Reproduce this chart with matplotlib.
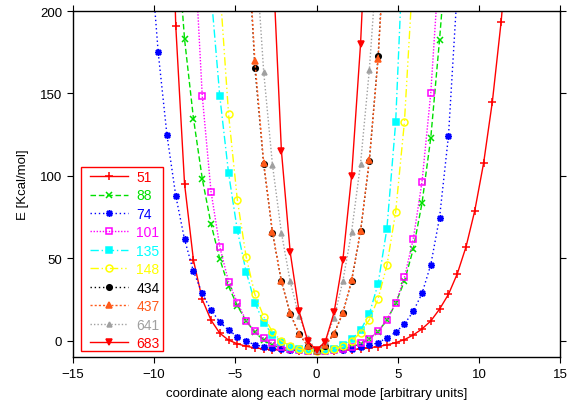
import matplotlib
matplotlib.use('Agg')
import matplotlib.pyplot as plt
from matplotlib.patches import Rectangle

plt.rcParams['font.family'] = ['Liberation Sans', 'DejaVu Sans']

# sampling grid along the normal-mode coordinate (shared by all modes)
grid = [-10.28, -9.74, -9.20, -8.66, -8.12, -7.57, -7.03, -6.49, -5.95, -5.41,
        -4.87, -4.33, -3.79, -3.25, -2.71, -2.16, -1.62, -1.08, -0.54, 0.0,
        0.54, 1.08, 1.62, 2.16, 2.71, 3.25, 3.79, 4.33, 4.87, 5.41,
        5.95, 6.49, 7.03, 7.57, 8.12, 8.66, 9.20, 9.74, 10.28, 10.82,
        11.36, 11.90]

modes = ['51', '88', '74', '101', '135', '148', '434', '437', '641', '683']
starts = [2, 3, 0, 5, 7, 8, 11, 11, 12, 14]   # first grid index of each mode

e51 = [380, 191, 95.3, 48.8, 25.1, 12.5, 4.6, 0.4, -1.8, -3.3, -4.3, -4.9, -5.3,
       -5.6, -5.8, -5.9, -6.0, -6.0, -6.0, -5.9, -5.8, -5.4, -4.8, -4.2, -3.5,
       -2.5, -1.1, 0.7, 3.5, 7.2, 12.0, 19.2, 28.2, 40.6, 57.0, 79.0, 107.7,
       145.0, 193.5, 256]
e88 = [254, 183, 134.8, 98.4, 70.8, 49.6, 33.0, 21.3, 12.0, 5.2, 0.3, -2.7, -4.5,
       -5.3, -5.7, -5.9, -6.0, -5.9, -5.6, -4.9, -3.8, -1.8, 1.2, 5.6, 12.5,
       22.7, 36.2, 55.5, 83.4, 123.0, 182.6, 250]
e74 = [243, 174.9, 124.7, 88.0, 61.5, 42.1, 28.7, 18.6, 11.5, 6.3, 2.6, -0.3,
       -2.4, -3.6, -4.6, -5.1, -5.5, -5.8, -5.9, -6.0, -5.9, -5.8, -5.4, -4.8,
       -3.9, -2.7, -1.2, 1.8, 5.2, 10.1, 17.8, 28.7, 46.1, 74.7, 124.3, 213]
e101 = [250, 148.6, 90.5, 56.9, 35.8, 23.1, 12.2, 5.8, 1.6, -1.6, -3.6, -4.9,
        -5.5, -5.9, -6.0, -5.9, -5.5, -4.9, -3.6, -1.6, 1.2, 5.8, 12.8, 22.8,
        38.5, 61.5, 96.3, 150.2, 232]
e135 = [211, 148.2, 101.6, 67.0, 41.9, 23.1, 10.9, 3.8, -0.9, -3.5, -5.2, -5.8,
        -6.0, -5.6, -4.7, -2.7, 0.8, 6.3, 16.4, 34.6, 68.0, 132.4, 258]
e148 = [215, 137.3, 85.4, 51.0, 28.1, 14.6, 5.5, 0.0, -3.3, -5.1, -5.8, -6.0,
        -5.7, -5.0, -3.3, -0.2, 4.9, 12.8, 25.5, 45.7, 78.1, 132.8, 225]
e434 = [262, 165.4, 107.0, 65.6, 36.0, 16.5, 4.2, -3.0, -5.9, -2.9, 4.3, 16.8,
        36.5, 66.4, 109.0, 172.5, 266]
e437 = [262, 169.4, 108.1, 65.8, 36.2, 16.6, 4.4, -2.9, -5.9, -2.8, 4.4, 16.9,
        36.6, 66.6, 109.7, 170.8, 264]
e641 = [243, 163.2, 106.7, 65.6, 36.0, 15.0, 1.5, -5.8, 0.0, 14.0, 36.2, 66.2,
        107.5, 164.2, 240]
e683 = [235, 115.3, 53.8, 18.2, -0.2, -5.7, -0.5, 17.2, 48.8, 100.0, 180.0, 295]

energies = [e51, e88, e74, e101, e135, e148, e434, e437, e641, e683]

colors = ['#ff0000', '#00e000', '#0000ff', '#ff00ff', '#00ffff', '#ffff00',
          '#000000', '#ff5a1a', '#a0a0a0', '#ff0000']
dashes = [None, (4, 2), (1, 2), (1, 1.2), (6, 2, 1, 2), (6, 2, 1, 2, 1, 2),
          (1, 2), (1.5, 1.5), (1, 1.5), None]
markers = ['+', 'x', (8, 2, 0), 's', 's', 'o', 'o', '^', '^', 'v']
msizes = [5.5, 5, 5, 5, 4, 5, 4, 4.5, 3.5, 4.5]
mfilled = [True, True, True, False, True, False, True, True, True, True]

fig = plt.figure(figsize=(5.69, 4.06), dpi=100)
ax = fig.add_axes([0.1278, 0.1175, 0.8569, 0.8529])

for name, st, e, c, d, m, ms, fill in zip(modes, starts, energies, colors, dashes,
                                           markers, msizes, mfilled):
    x = grid[st:st + len(e)]
    line, = ax.plot(x, e, color=c, lw=1, marker=m, ms=ms,
                    mfc=c if fill else 'none', mec=c, mew=1.1, label=name)
    if d is not None:
        line.set_dashes(d)

ax.set_xlim(-15, 15)
ax.set_ylim(-10, 200)
ax.set_xticks([-15, -10, -5, 0, 5, 10, 15])
ax.set_yticks([0, 50, 100, 150, 200])
ax.tick_params(direction='out', length=4, width=0.8, labelsize=9.5,
               top=True, right=True)
for s in ax.spines.values():
    s.set_linewidth(1.0)

ax.set_xlabel('coordinate along each normal mode [arbitrary units]', fontsize=9.5,
              labelpad=5)
ax.set_ylabel('E [Kcal/mol]', fontsize=9.5, labelpad=8)

ax.add_patch(Rectangle((0.017, 0.018), 0.168, 0.532, transform=ax.transAxes,
                       fill=False, edgecolor='#ff0000', lw=1.0, zorder=5))
leg = ax.legend(loc='upper left', bbox_to_anchor=(0.0355, 0.541), frameon=False,
                borderaxespad=0, borderpad=0, fontsize=10, handlelength=2.73,
                handletextpad=0.6, labelspacing=0.32)
for txt, c in zip(leg.get_texts(), colors):
    txt.set_color(c)

fig.savefig('out.png', dpi=100)
